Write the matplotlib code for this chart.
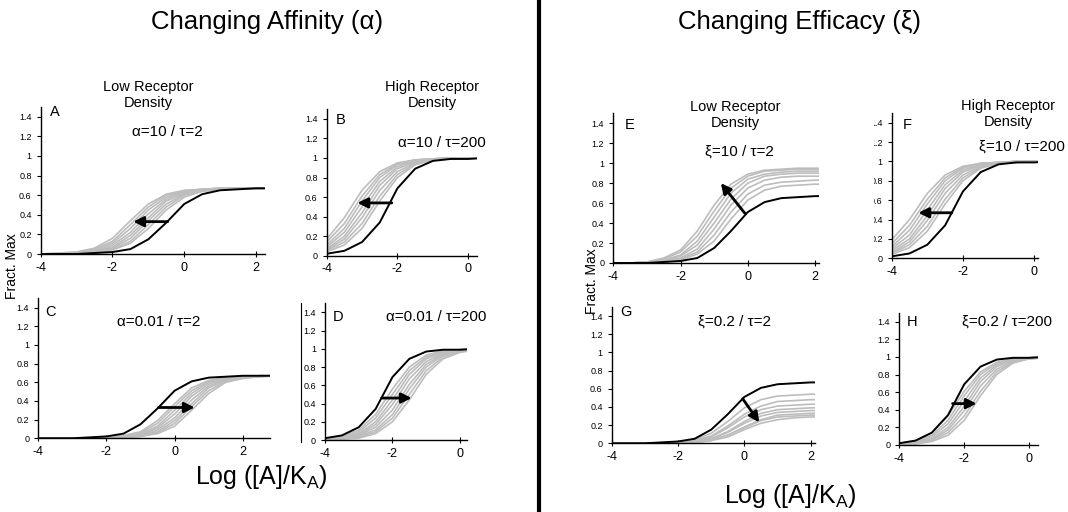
import matplotlib
matplotlib.use('Agg')
import matplotlib.pyplot as plt
from matplotlib.lines import Line2D
from matplotlib.transforms import Bbox

plt.rcParams['font.family'] = ['Liberation Sans', 'DejaVu Sans']
plt.rcParams['mathtext.fontset'] = 'custom'
plt.rcParams['mathtext.rm'] = 'Liberation Sans'
plt.rcParams['mathtext.it'] = 'Liberation Sans:italic'
plt.rcParams['axes.unicode_minus'] = False

W, H = 1068, 512

# log([A]/KA) sample points
x_low = [-4, -3.5, -3, -2.5, -2, -1.5, -1, -0.5, 0, 0.5, 1, 1.5, 2, 2.5, 3]
x_high = [-4, -3.5, -3, -2.5, -2, -1.5, -1, -0.5, 0, 0.5]

# black reference curves (tau=2 and tau=200)
ref_low = [0, 0, 0, 0.01, 0.02, 0.05, 0.15, 0.32, 0.51, 0.61, 0.65, 0.66, 0.67, 0.67, 0.67]
ref_high = [0.02, 0.05, 0.14, 0.34, 0.69, 0.89, 0.97, 0.99, 0.99, 1.0]

# A: alpha=10, tau=2
gray_a = [
    [0, .01, .02, .06, .16, .34, .51, .61, .65, .66, .67, .67, .67, .67, .67],
    [0, .01, .02, .05, .13, .30, .48, .60, .64, .66, .67, .67, .67, .67, .67],
    [0, 0, .01, .04, .11, .26, .45, .58, .64, .66, .67, .67, .67, .67, .67],
    [0, 0, .01, .03, .09, .22, .41, .56, .63, .66, .67, .67, .67, .67, .67],
    [0, 0, .01, .03, .07, .19, .37, .54, .62, .65, .66, .67, .67, .67, .67],
    [0, 0, .01, .02, .06, .16, .34, .51, .61, .65, .66, .67, .67, .67, .67],
    [0, 0, .01, .02, .05, .13, .30, .48, .60, .64, .66, .67, .67, .67, .67],
    [0, 0, 0, .01, .04, .11, .26, .45, .58, .64, .66, .67, .67, .67, .67],
]
# B: alpha=10, tau=200
gray_b = [
    [.17, .39, .67, .86, .95, .98, .99, 1, 1, 1],
    [.14, .33, .61, .83, .94, .98, .99, 1, 1, 1],
    [.11, .28, .56, .80, .93, .98, .99, 1, 1, 1],
    [.09, .24, .50, .76, .91, .97, .99, 1, 1, 1],
    [.07, .20, .44, .72, .89, .96, .99, 1, 1, 1],
    [.06, .17, .39, .67, .86, .95, .98, .99, 1, 1],
    [.05, .14, .33, .61, .83, .94, .98, .99, 1, 1],
    [.04, .11, .28, .56, .80, .93, .98, .99, 1, 1],
]
# C: alpha=0.01, tau=2
gray_c = [
    [0, 0, 0, 0, .01, .03, .07, .19, .37, .54, .62, .65, .66, .67, .67],
    [0, 0, 0, 0, .01, .02, .06, .16, .34, .51, .61, .65, .66, .67, .67],
    [0, 0, 0, 0, .01, .02, .05, .13, .30, .48, .60, .64, .66, .67, .67],
    [0, 0, 0, 0, 0, .01, .04, .11, .26, .45, .58, .64, .66, .67, .67],
    [0, 0, 0, 0, 0, .01, .03, .09, .22, .41, .56, .63, .66, .67, .67],
    [0, 0, 0, 0, 0, .01, .03, .07, .19, .37, .54, .62, .65, .66, .67],
    [0, 0, 0, 0, 0, .01, .02, .06, .16, .34, .51, .61, .65, .66, .67],
    [0, 0, 0, 0, 0, .01, .02, .05, .13, .30, .48, .60, .64, .66, .67],
]
# D: alpha=0.01, tau=200
gray_d = [
    [.01, .04, .11, .28, .56, .80, .93, .98, .99, 1],
    [.01, .03, .09, .24, .50, .76, .91, .97, .99, 1],
    [.01, .02, .07, .20, .44, .72, .89, .96, .99, 1],
    [.01, .02, .06, .17, .39, .67, .86, .95, .98, .99],
    [0, .02, .05, .14, .33, .61, .83, .94, .98, .99],
    [0, .01, .04, .11, .28, .56, .80, .93, .98, .99],
    [0, .01, .03, .09, .24, .50, .76, .91, .97, .99],
    [0, .01, .02, .07, .20, .44, .72, .89, .96, .99],
]
# E: xi=10, tau=2
gray_e = [
    [0, 0, 0, .01, .03, .09, .22, .44, .63, .73, .77, .78, .79, .79, .79],
    [0, 0, 0, .01, .04, .11, .28, .51, .69, .78, .81, .82, .83, .83, .83],
    [0, 0, .01, .02, .05, .14, .34, .58, .75, .83, .86, .87, .87, .87, .87],
    [0, 0, .01, .02, .07, .18, .40, .64, .80, .87, .89, .90, .90, .90, .90],
    [0, 0, .01, .03, .08, .22, .46, .70, .84, .89, .91, .92, .92, .92, .92],
    [0, 0, .01, .04, .11, .27, .52, .75, .87, .92, .93, .94, .94, .94, .94],
    [0, 0, .01, .05, .13, .32, .58, .79, .89, .93, .94, .95, .95, .95, .95],
]
# F: xi=10, tau=200
gray_f = [
    [.19, .40, .67, .86, .95, .98, .99, 1, 1, 1],
    [.15, .34, .61, .83, .94, .98, .99, 1, 1, 1],
    [.12, .29, .56, .80, .93, .98, .99, 1, 1, 1],
    [.10, .24, .50, .76, .91, .97, .99, 1, 1, 1],
    [.08, .20, .44, .72, .89, .96, .99, 1, 1, 1],
    [.06, .17, .39, .67, .86, .95, .98, .99, 1, 1],
    [.05, .14, .33, .61, .83, .94, .98, .99, 1, 1],
    [.04, .11, .28, .56, .80, .93, .98, .99, 1, 1],
]
# G: xi=0.2, tau=2
gray_g = [
    [0, 0, 0, 0, .01, .04, .11, .24, .39, .48, .52, .53, .54, .54, .54],
    [0, 0, 0, 0, .01, .03, .08, .19, .32, .41, .46, .47, .48, .48, .48],
    [0, 0, 0, 0, .01, .03, .07, .17, .29, .37, .41, .42, .43, .43, .43],
    [0, 0, 0, 0, .01, .02, .05, .13, .24, .33, .37, .38, .39, .39, .39],
    [0, 0, 0, 0, .01, .02, .05, .12, .22, .30, .34, .35, .36, .36, .36],
    [0, 0, 0, 0, 0, .01, .04, .09, .18, .26, .31, .32, .33, .33, .33],
    [0, 0, 0, 0, 0, .01, .03, .09, .17, .25, .29, .30, .31, .31, .31],
    [0, 0, 0, 0, 0, .01, .03, .07, .15, .22, .26, .28, .29, .29, .29],
]
# H: xi=0.2, tau=200
gray_h = [
    [.02, .05, .14, .33, .61, .83, .94, .98, .99, 1],
    [.01, .04, .11, .28, .56, .80, .93, .98, .99, 1],
    [.01, .03, .09, .24, .50, .76, .91, .97, .99, 1],
    [.01, .02, .07, .20, .44, .72, .89, .96, .99, 1],
    [.01, .02, .06, .17, .39, .67, .86, .95, .98, .99],
    [0, .02, .05, .14, .33, .61, .83, .94, .98, .99],
    [0, .01, .04, .11, .28, .56, .80, .93, .98, .99],
]

# arrows: (x start, y start, x end, y end)
arrows = {
    'A': (-0.46, 0.33, -1.42, 0.33),
    'B': (-2.16, 0.54, -3.13, 0.54),
    'C': (-0.47, 0.33, 0.59, 0.33),
    'D': (-2.32, 0.46, -1.43, 0.46),
    'E': (-0.09, 0.50, -0.80, 0.80),
    'F': (-2.31, 0.47, -3.25, 0.47),
    'G': (-0.05, 0.49, 0.45, 0.23),
    'H': (-2.36, 0.47, -1.62, 0.47),
}
notes = {
    'A': 'α=10 / τ=2', 'B': 'α=10 / τ=200',
    'C': 'α=0.01 / τ=2', 'D': 'α=0.01 / τ=200',
    'E': 'ξ=10 / τ=2', 'F': 'ξ=10 / τ=200',
    'G': 'ξ=0.2 / τ=2', 'H': 'ξ=0.2 / τ=200',
}
y_ticks = [0, 0.2, 0.4, 0.6, 0.8, 1.0, 1.2, 1.4]
y_labels = ['0', '0.2', '0.4', '0.6', '0.8', '1', '1.2', '1.4']

# panel layout in pixels: (left, top, right, bottom), x max, letter pos, note pos
panels = {
    'A': ((40.7, 106.9, 265, 254), 2.25, (55, 112), (167, 132), x_low, ref_low, gray_a),
    'B': ((326.7, 109.1, 476.7, 255.7), 0.24, (341, 120), (442, 143), x_high, ref_high, gray_b),
    'C': ((38.3, 298.3, 270, 438.3), 2.8, (50, 312), (159, 322), x_low, ref_low, gray_c),
    'D': ((325, 303.2, 466.7, 440), 0.2, (338, 317), (436, 317), x_high, ref_high, gray_d),
    'E': ((613.3, 113.3, 819, 263), 2.12, (630, 125), (739, 152), x_low, ref_low, gray_e),
    'F': ((891.7, 113, 1038.4, 258.3), 0.12, (907, 125), (1022, 147), x_high, ref_high, gray_f),
    'G': ((611.7, 307, 815, 443.3), 2.13, (626, 312), (735, 322), x_low, ref_low, gray_g),
    'H': ((899.3, 312.9, 1037.7, 445), 0.26, (912, 322), (1007, 322), x_high, ref_high, gray_h),
}


def fx(x):
    return x / W


def fy(y):
    return 1 - y / H


fig = plt.figure(figsize=(W / 100, H / 100), dpi=100)
fig.patch.set_facecolor('white')

axes = {}
for key, (rect, xmax, lpos, npos, xs, ref, grays) in panels.items():
    l, t, r, b = rect
    ax = fig.add_axes([fx(l), fy(b), (r - l) / W, (b - t) / H])
    ax.set_facecolor('none')
    for g in grays:
        ax.plot(xs, g, color='#bdbdbd', lw=1.2, solid_joinstyle='round')
    ax.plot(xs, ref, color='black', lw=1.4, solid_joinstyle='round')
    x0, y0, x1, y1 = arrows[key]
    ax.annotate('', xy=(x1, y1), xytext=(x0, y0),
                arrowprops=dict(arrowstyle='-|>,head_length=0.6,head_width=0.3',
                                color='black', lw=2.0, shrinkA=0, shrinkB=0))
    ax.set_xlim(-4, xmax)
    ax.set_ylim(0, 1.5)
    ax.set_xticks([-4, -2, 0, 2] if xmax > 1 else [-4, -2, 0])
    ax.set_yticks(y_ticks)
    ax.set_yticklabels(y_labels)
    for s in ['top', 'right']:
        ax.spines[s].set_visible(False)
    for s in ['left', 'bottom']:
        ax.spines[s].set_linewidth(1.0)
    ax.tick_params(axis='x', direction='inout', length=5, width=0.8, labelsize=9, pad=3)
    ax.tick_params(axis='y', direction='out', length=3, width=0.8, labelsize=6.5, pad=3.5)
    fig.text(fx(lpos[0]), fy(lpos[1]), key, fontsize=10.5, ha='center', va='center')
    fig.text(fx(npos[0]), fy(npos[1]), notes[key], fontsize=11, ha='center', va='center')
    axes[key] = ax

# panel F tick labels are cut off on the left in the original
fig.canvas.draw()
clip = Bbox.from_extents(874, 0, W, H)
for lbl in axes['F'].get_yticklabels():
    lbl.set_clip_box(clip)
    lbl.set_clip_on(True)

# headers
fig.text(fx(267), fy(22), 'Changing Affinity (α)', fontsize=18.5, ha='center', va='center')
fig.text(fx(800), fy(22), 'Changing Efficacy (ξ)', fontsize=18.5, ha='center', va='center')
for txt, x, y in [('Low Receptor\nDensity', 148, 95), ('High Receptor\nDensity', 432, 95),
                  ('Low Receptor\nDensity', 735, 115), ('High Receptor\nDensity', 1008, 114)]:
    fig.text(fx(x), fy(y), txt, fontsize=10.5, ha='center', va='center', linespacing=1.15)

fig.text(fx(12), fy(266), 'Fract. Max', fontsize=10, rotation=90, ha='center', va='center')
fig.text(fx(592), fy(281), 'Fract. Max', fontsize=10, rotation=90, ha='center', va='center')
fig.text(fx(261), fy(477), r'Log ([A]/K$_\mathrm{A}$)', fontsize=18, ha='center', va='center')
fig.text(fx(790), fy(496), r'Log ([A]/K$_\mathrm{A}$)', fontsize=18, ha='center', va='center')

# divider and stray frame line
fig.add_artist(Line2D([fx(538.7), fx(538.7)], [0, 1], color='black', lw=3))
fig.add_artist(Line2D([fx(301), fx(301)], [fy(303), fy(442)], color='black', lw=0.8))

fig.savefig('out.png', dpi=100, facecolor='white')
